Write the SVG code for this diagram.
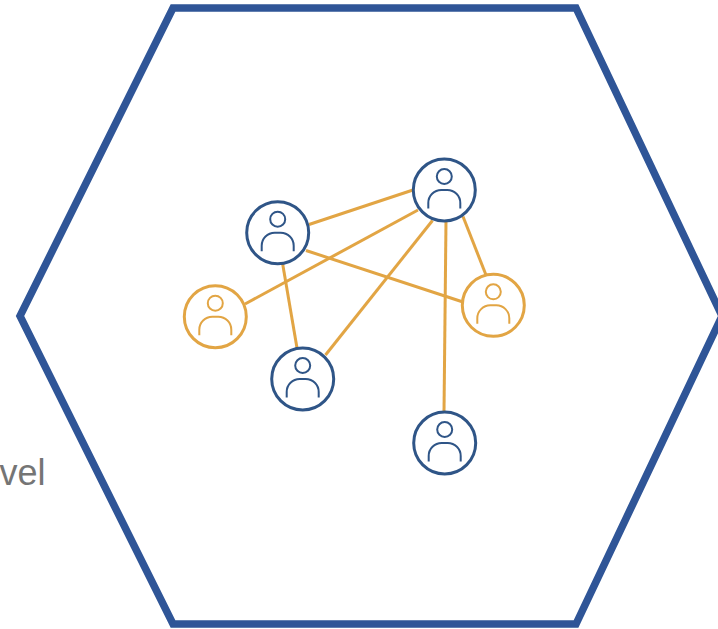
<svg xmlns="http://www.w3.org/2000/svg" width="718" height="629" viewBox="0 0 718 629">
<style>
.hex{fill:none;stroke:#2f5597;stroke-width:7.5;stroke-linejoin:miter}
.c{stroke:#e2a544;stroke-width:3;fill:none}
.b{stroke:#2f5587}
.o{stroke:#e2a544}
.ring{stroke-width:3;fill:#fff}
.head{stroke-width:2;fill:#fff}
.body{stroke-width:2;fill:none}
.t{font-family:"Liberation Sans",Arial,sans-serif;font-size:36px;fill:#757575}
</style>
<defs>
<g id="person">
<circle class="ring" r="31"/>
<circle class="head" cy="-13.5" r="7.5"/>
<path class="body" d="M-16 18.5V13A13 13 0 0 1 -3 0H3A13 13 0 0 1 16 13V18.5"/>
</g>
</defs>
<rect width="718" height="629" fill="#fff"/>
<text class="t" x="45.5" y="485" text-anchor="end">vel</text>
<polygon id="hexagon" class="hex" points="173,8 576,8 722,316 576,624 173,624 20,316"/>
<g id="connectors">
<line class="c" x1="309" y1="224.5" x2="413" y2="190"/>
<line class="c" x1="245" y1="304" x2="418" y2="210"/>
<line class="c" x1="282.5" y1="263" x2="297" y2="348"/>
<line class="c" x1="306" y1="250.5" x2="463" y2="302"/>
<line class="c" x1="325.5" y1="355" x2="432.5" y2="220.5"/>
<line class="c" x1="446" y1="221" x2="444" y2="412"/>
<line class="c" x1="463" y1="216.5" x2="486" y2="275"/>
</g>
<g id="node-a" class="b" transform="translate(277.7 232.7)"><use href="#person"/></g>
<g id="node-b" class="b" transform="translate(444.3 190)"><use href="#person"/></g>
<g id="node-c" class="o" transform="translate(215.3 316.7)"><use href="#person"/></g>
<g id="node-d" class="o" transform="translate(493.3 305.3)"><use href="#person"/></g>
<g id="node-e" class="b" transform="translate(302.7 379)"><use href="#person"/></g>
<g id="node-f" class="b" transform="translate(444.7 443)"><use href="#person"/></g>
</svg>
